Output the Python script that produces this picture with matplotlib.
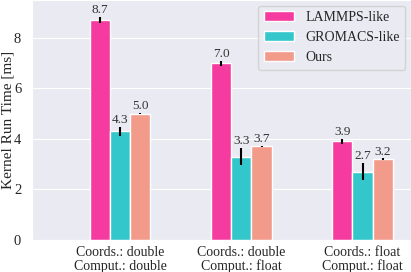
import matplotlib

matplotlib.use("Agg")
import matplotlib.pyplot as plt
import numpy as np
import seaborn as sns

groups = ["Coords.: double\nComput.: double", "Coords.: double\nComput.: float", "Coords.: float\nComput.: float"]
methods = ["LAMMPS-like", "GROMACS-like", "Ours"]
times = [
    [8.7, 7.0, 3.9],
    [4.3, 3.3, 2.7],
    [5.0, 3.7, 3.2],
]
errors = [
    [0.12, 0.1, 0.1],
    [0.18, 0.35, 0.34],
    [0.02, 0.02, 0.03],
]
COLORS = ["#F53BA0", "#33C6CA", "#F29B8B"]

sns.set_style("darkgrid")
plt.rcParams["font.family"] = ["Liberation Serif", "DejaVu Serif"]

fig, ax = plt.subplots(figsize=(4.11, 2.72), dpi=100)
x = np.arange(len(groups))
width = 0.167
for i, (name, vals, errs) in enumerate(zip(methods, times, errors)):
    pos = x + (i - 1) * width
    ax.bar(pos, vals, width, color=COLORS[i], label=name, yerr=errs,
           error_kw={"elinewidth": 1.5, "ecolor": "black", "capsize": 0})
    for p, v, e in zip(pos, vals, errs):
        ax.text(p, v + e + 0.03, f"{v:.1f}", ha="center", va="bottom", fontsize=9.5, color="#333333")

ax.set_xticks(x)
ax.set_xticklabels(groups, fontsize=10, linespacing=1.05)
ax.tick_params(axis="x", pad=1)
ax.tick_params(axis="y", labelsize=10.5, pad=4)
ax.set_yticks([0, 2, 4, 6, 8])
ax.set_ylim(0, 9.5)
ax.set_xlim(-0.73, 2.4)
ax.set_ylabel("Kernel Run Time [ms]", fontsize=11)
ax.yaxis.set_label_coords(-0.046, 0.5)
ax.grid(axis="x", visible=False)
ax.legend(loc="upper right", fontsize=10, frameon=True, handlelength=2.2,
          borderaxespad=0.4)
fig.subplots_adjust(left=0.077, right=1.0, top=1.0, bottom=0.118)
fig.savefig("out.png", dpi=100)
